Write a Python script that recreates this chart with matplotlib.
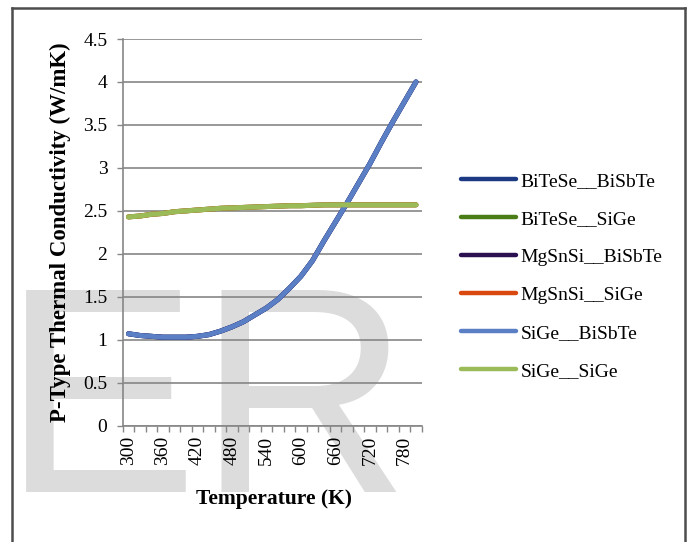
import matplotlib
matplotlib.use('Agg')
import matplotlib.pyplot as plt
from matplotlib.lines import Line2D

# ---- data ----
temperatures = [300, 320, 340, 360, 380, 400, 420, 440, 460, 480, 500, 520, 540,
                560, 580, 600, 620, 640, 660, 680, 700, 720, 740, 760, 780, 800]
bisbte_curve = [1.07, 1.05, 1.04, 1.03, 1.03, 1.03, 1.04, 1.06, 1.10, 1.15, 1.21, 1.29, 1.37,
                1.47, 1.60, 1.74, 1.92, 2.15, 2.37, 2.59, 2.82, 3.05, 3.30, 3.54, 3.77, 4.00]
sige_curve = [2.43, 2.44, 2.46, 2.47, 2.49, 2.50, 2.51, 2.52, 2.53, 2.535, 2.54, 2.545, 2.55,
              2.555, 2.56, 2.56, 2.565, 2.57, 2.57, 2.57, 2.57, 2.57, 2.57, 2.57, 2.57, 2.57]
series_names = ['BiTeSe__BiSbTe', 'BiTeSe__SiGe', 'MgSnSi__BiSbTe',
                'MgSnSi__SiGe', 'SiGe__BiSbTe', 'SiGe__SiGe']
series_values = [bisbte_curve, sige_curve, bisbte_curve, sige_curve, bisbte_curve, sige_curve]
series_colors = ['#1c3a84', '#4a7d16', '#2a1050', '#d9480f', '#5a7fc4', '#9bbb59']
y_ticks = [0, 0.5, 1, 1.5, 2, 2.5, 3, 3.5, 4, 4.5]
y_tick_labels = ['0', '0.5', '1', '1.5', '2', '2.5', '3', '3.5', '4', '4.5']
label_every = 3

W, H = 690, 542
fig = plt.figure(figsize=(W / 100, H / 100), dpi=100)
serif = ['Liberation Serif', 'DejaVu Serif']

# watermark
fig.text(2 / W, 1 - 492 / H, 'ER', fontsize=212, color='#dcdcdc',
         family='Liberation Sans', ha='left', va='baseline', zorder=-5)

# frame border (left, top, right)
bc = '#4d4d4d'
fig.add_artist(Line2D([12 / W, 12 / W], [0, 1 - 8 / H], transform=fig.transFigure, color=bc, lw=1.8))
fig.add_artist(Line2D([12 / W, 684.5 / W], [1 - 8 / H, 1 - 8 / H], transform=fig.transFigure, color=bc, lw=1.8))
fig.add_artist(Line2D([684.5 / W, 684.5 / W], [0, 1 - 8 / H], transform=fig.transFigure, color=bc, lw=1.8))

left, right, top, bottom = 122.7, 421.7, 39.0, 425.7
ax = fig.add_axes([left / W, 1 - bottom / H, (right - left) / W, (bottom - top) / H])
ax.patch.set_alpha(0)

x = list(range(len(temperatures)))
handles = []
for name, vals, col in zip(series_names, series_values, series_colors):
    ln, = ax.plot(x, vals, color=col, lw=3.6, solid_capstyle='round', label=name)
    handles.append(ln)

ax.set_xlim(-0.5, len(temperatures) - 0.5)
ax.set_ylim(0, 4.5)
ax.set_yticks(y_ticks)
ax.set_yticklabels(y_tick_labels, family=serif, fontsize=14)
ax.yaxis.grid(True, color='#868686', lw=1.2)
ax.set_axisbelow(True)

ax.set_xticks([i - 0.5 for i in range(len(temperatures) + 1)])
ax.set_xticklabels([])
ax.set_xticks(x[::label_every], minor=True)
ax.set_xticklabels([str(t) for t in temperatures[::label_every]], minor=True,
                   rotation=90, family=serif, fontsize=14)
ax.tick_params(axis='x', which='major', length=4, width=1, color='#868686', direction='out')
ax.tick_params(axis='x', which='minor', length=0, pad=7)
ax.tick_params(axis='y', length=4, width=1, color='#868686', pad=7)

for s in ['top', 'right']:
    ax.spines[s].set_visible(False)
for s in ['left', 'bottom']:
    ax.spines[s].set_color('#868686')
    ax.spines[s].set_linewidth(1.2)

ax.set_xlabel('Temperature (K)', family=serif, fontweight='bold', fontsize=15.5)
ax.xaxis.set_label_coords((274 - left) / (right - left), (bottom - 489) / (bottom - top))
ax.set_ylabel('P-Type Thermal Conductivity (W/mK)', family=serif, fontweight='bold', fontsize=16.5)
ax.yaxis.set_label_coords((60 - left) / (right - left), 0.5)
ax.yaxis.label.set_va('center')

leg = ax.legend(handles=handles, loc='center left',
                bbox_to_anchor=(461 / W, 1 - 276 / H), bbox_transform=fig.transFigure,
                frameon=False, prop={'family': serif, 'size': 14},
                handlelength=2.85, handletextpad=0.2, labelspacing=1.05,
                borderpad=0, borderaxespad=0)
for lh in leg.get_lines():
    lh.set_linewidth(3.2)

fig.savefig('out.png', dpi=100)
